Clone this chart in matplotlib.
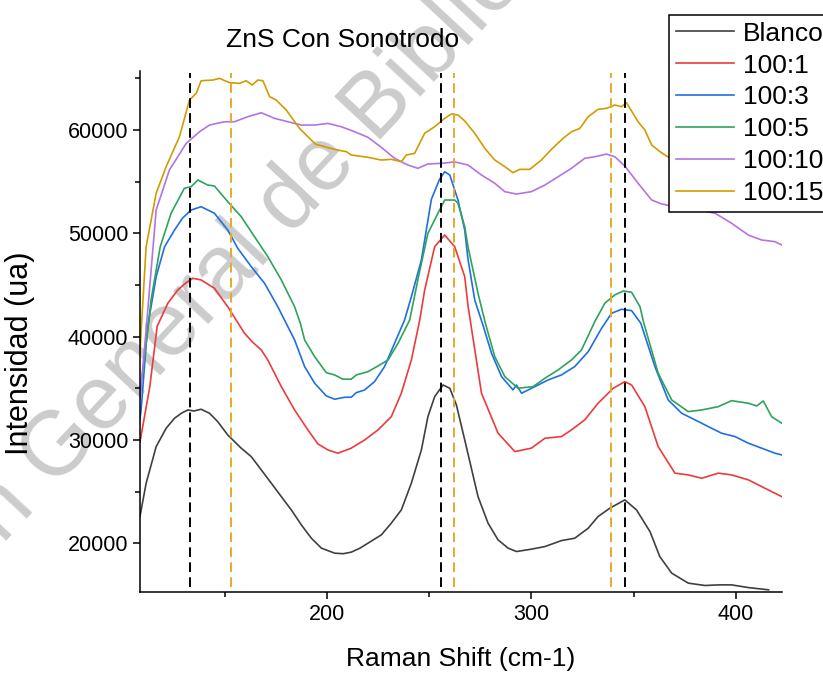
import matplotlib
matplotlib.use('Agg')
import matplotlib.pyplot as plt
from matplotlib.ticker import MultipleLocator

plt.rcParams['font.family'] = ['Liberation Sans', 'DejaVu Sans']

# Raman spectra (x in cm-1, y in ua)
blanco_x = [108.6, 111.6, 116.5, 121.4, 125.5, 129.0, 132.0, 135.0, 138.5, 142.6, 146.6, 151.5,
            158.1, 163.0, 167.9, 172.8, 177.7, 182.6, 187.5, 192.4, 197.3, 203.8, 208.0, 211.9,
            216.0, 220.1, 226.6, 231.5, 236.4, 241.3, 246.2, 249.4, 252.7, 256.8, 260.1, 263.3,
            267.4, 273.9, 278.8, 283.7, 288.6, 292.7, 300.0, 306.6, 314.7, 321.2, 327.8, 332.6,
            338.4, 345.7, 351.4, 358.0, 362.8, 368.6, 376.7, 384.9, 391.4, 397.9, 406.1, 416.0]
blanco_y = [22600, 25800, 29350, 31130, 32100, 32600, 32900, 32800, 32970, 32580, 31770, 30480,
            29200, 28380, 27100, 25810, 24510, 23220, 21770, 20480, 19520, 19030, 18980, 19130,
            19500, 20000, 20800, 21940, 23220, 25810, 29030, 32250, 34190, 35320, 35000, 33400,
            30000, 24510, 21940, 20320, 19520, 19190, 19420, 19670, 20250, 20480, 21450, 22580,
            23390, 24190, 23220, 21120, 18700, 17100, 16130, 15900, 15960, 15960, 15700, 15480]

r1_x = [108.6, 113.4, 117.0, 122.2, 127.1, 131.0, 134.4, 138.5, 145.0, 151.5, 155.0, 159.7,
        163.5, 167.9, 171.1, 177.7, 184.2, 190.7, 195.6, 200.5, 205.4, 211.9, 218.5, 225.0,
        231.5, 236.4, 241.3, 245.4, 247.8, 252.7, 257.6, 262.5, 267.4, 269.0, 275.6, 283.7,
        291.9, 300.0, 306.6, 314.7, 319.6, 326.1, 332.6, 340.0, 345.7, 349.0, 355.5, 362.0,
        370.2, 376.7, 383.3, 391.4, 397.9, 406.1, 412.6, 422.4]
r1_y = [29800, 35160, 41000, 43230, 44520, 45200, 45650, 45490, 44680, 42900, 41800, 40330,
        39500, 38710, 37740, 35160, 32900, 30970, 29610, 29030, 28710, 29200, 30000, 30970,
        32250, 34520, 37740, 41600, 44500, 48710, 49840, 48710, 45810, 43000, 34520, 30650,
        28870, 29200, 30160, 30320, 30970, 31940, 33550, 35000, 35640, 35320, 33220, 29350,
        26780, 26610, 26290, 26780, 26610, 26130, 25480, 24510]

r3_x = [108.6, 109.2, 112.2, 116.5, 120.6, 125.5, 129.5, 133.6, 138.5, 145.0, 151.5, 156.4,
        163.0, 169.5, 176.0, 180.9, 184.2, 189.1, 194.0, 199.7, 203.8, 208.7, 211.9, 214.4,
        218.5, 223.3, 228.2, 233.1, 238.0, 241.5, 246.2, 251.1, 255.0, 257.6, 260.1, 264.1,
        267.4, 269.0, 272.3, 276.5, 280.5, 285.4, 291.0, 292.7, 295.2, 301.7, 308.2, 314.7,
        321.2, 327.8, 334.3, 339.2, 344.1, 349.0, 353.5, 360.4, 366.9, 373.5, 380.0, 386.5,
        393.0, 399.6, 406.1, 412.6, 419.1, 422.4]
r3_y = [32000, 33000, 40800, 45800, 48700, 50330, 51500, 52260, 52580, 51950, 50330, 48560,
        46780, 45170, 42900, 40970, 39680, 37100, 35490, 34260, 33940, 34130, 34130, 34580,
        34840, 35640, 37100, 39360, 41620, 44000, 47420, 53300, 55200, 55970, 55650, 53230,
        50330, 47500, 43550, 41000, 38390, 36130, 34840, 35320, 34520, 35160, 35810, 36290,
        37100, 38550, 40800, 42260, 42650, 42520, 41300, 37100, 33870, 32580, 31940, 31290,
        30650, 30320, 29680, 29200, 28710, 28550]

r5_x = [108.6, 112.5, 114.0, 118.5, 123.8, 130.3, 133.6, 136.9, 141.7, 145.0, 151.5, 158.1,
        164.6, 171.1, 177.7, 184.2, 187.0, 189.1, 194.0, 199.7, 203.8, 207.8, 211.9, 214.4,
        220.1, 225.0, 229.9, 234.8, 240.5, 245.0, 249.4, 254.3, 257.6, 262.5, 264.1, 267.4,
        269.0, 273.9, 277.5, 282.1, 287.0, 293.5, 300.8, 306.6, 313.1, 319.6, 324.5, 331.0,
        335.9, 340.8, 344.9, 349.0, 353.1, 355.0, 362.0, 368.6, 376.7, 383.3, 391.4, 397.9,
        406.1, 410.2, 413.4, 417.5, 422.4]
r5_y = [34500, 40700, 43550, 48710, 51950, 54370, 54520, 55170, 54680, 54590, 53070, 51620,
        49680, 47750, 45490, 42900, 41300, 39680, 38060, 36510, 36290, 35880, 35880, 36290,
        36610, 37160, 37740, 39360, 41620, 46000, 50000, 51950, 53230, 53230, 52910, 50650,
        48710, 44200, 41300, 38060, 36130, 35000, 35160, 35970, 36780, 37740, 38710, 41450,
        43230, 44040, 44420, 44300, 42900, 41300, 36460, 33870, 32740, 32900, 33220, 33800,
        33550, 33290, 33770, 32250, 31620]

r10_x = [108.6, 111.6, 116.5, 123.0, 131.2, 137.7, 142.6, 149.9, 154.8, 161.3, 167.9, 174.4,
         180.9, 187.5, 194.0, 200.5, 207.0, 213.6, 220.1, 226.6, 233.1, 239.6, 244.5, 249.4,
         256.0, 262.5, 269.0, 275.6, 282.1, 287.0, 292.7, 300.0, 306.6, 313.1, 319.6, 326.1,
         331.0, 336.7, 340.8, 345.7, 352.2, 358.8, 363.7, 372.0, 381.0, 389.8, 397.9, 406.1,
         412.6, 419.1, 422.4]
r10_y = [34000, 40650, 52260, 56140, 58720, 59840, 60490, 60810, 60810, 61300, 61680, 61140,
         60810, 60490, 60490, 60650, 60330, 59840, 59300, 58330, 57270, 56620, 56300, 56720,
         56780, 56920, 56620, 55650, 54850, 54040, 53810, 54040, 54680, 55490, 56300, 57270,
         57420, 57680, 57420, 56520, 54850, 53230, 52850, 52500, 52300, 51950, 50980, 49840,
         49360, 49200, 48880]

r15_x = [108.6, 109.2, 111.6, 116.5, 121.4, 127.9, 132.8, 136.1, 138.5, 144.2, 147.5, 152.4,
         157.3, 160.5, 163.5, 166.2, 168.7, 172.0, 175.2, 180.1, 186.6, 194.4, 203.4, 209.5,
         211.9, 220.1, 226.6, 231.5, 236.4, 238.9, 242.9, 247.8, 252.7, 257.6, 260.9, 264.1,
         267.4, 272.3, 277.2, 282.1, 287.0, 291.0, 294.3, 299.2, 304.9, 309.8, 315.5, 319.6,
         323.7, 327.8, 332.6, 336.8, 340.8, 344.1, 346.5, 352.2, 355.5, 358.8, 362.9, 367.0,
         375.0, 385.0, 395.0, 405.0, 415.0, 422.4]
r15_y = [38500, 40650, 48710, 53880, 56460, 59360, 62910, 63560, 64780, 64850, 65010, 64590,
         64530, 64780, 64370, 64850, 64780, 63240, 62910, 61950, 60170, 58640, 58150, 57910,
         57590, 57370, 57100, 57170, 56940, 57590, 57750, 59690, 60330, 61140, 61560, 61460,
         60890, 59690, 58240, 57100, 56460, 55880, 56200, 56200, 57100, 58140, 59200, 59840,
         60170, 61300, 62010, 62110, 62430, 62270, 62650, 60810, 60010, 58560, 57910, 57370,
         56500, 55800, 55200, 54600, 54000, 53600]

labels = ['Blanco', '100:1', '100:3', '100:5', '100:10', '100:15']
colors = ['#404040', '#eb3b3b', '#1f6fe0', '#2ea35c', '#b274e3', '#d19c00']
series = [(blanco_x, blanco_y), (r1_x, r1_y), (r3_x, r3_y),
          (r5_x, r5_y), (r10_x, r10_y), (r15_x, r15_y)]

# reference peak positions
black_peaks = [133, 256, 346]
orange_peaks = [153, 262, 339]

fig = plt.figure(figsize=(8.23, 6.73), dpi=100)
ax = fig.add_axes([0.1701, 0.1208, 0.7797, 0.7741])
ax.patch.set_alpha(0)

for (xs, ys), lab, col in zip(series, labels, colors):
    ax.plot(xs, ys, color=col, lw=1.2, label=lab)

for xp in black_peaks:
    ax.vlines(xp, 15750, 65500, colors='black', lw=1.4, linestyles=(0, (5, 2.7)))
for xp in orange_peaks:
    ax.vlines(xp, 15750, 65500, colors='#e8a92a', lw=1.4, linestyles=(0, (5, 2.7)))

ax.set_xlim(108.6, 422.4)
ax.set_ylim(15300, 65750)
ax.xaxis.set_major_locator(MultipleLocator(100))
ax.xaxis.set_minor_locator(MultipleLocator(50))
ax.yaxis.set_major_locator(MultipleLocator(10000))
ax.yaxis.set_minor_locator(MultipleLocator(5000))
ax.tick_params(which='major', direction='out', length=5, width=1.1, labelsize=15.5)
ax.tick_params(which='minor', direction='out', length=3.5, width=1.1)
for side in ['top', 'right']:
    ax.spines[side].set_visible(False)
for side in ['left', 'bottom']:
    ax.spines[side].set_linewidth(1.1)

ax.set_xlabel('Raman Shift (cm-1)', fontsize=19)
ax.set_ylabel('Intensidad (ua)', fontsize=22)
ax.xaxis.set_label_coords(0.5, -0.106)
ax.yaxis.set_label_coords(-0.164, 0.458)
fig.text(0.4168, 0.9406, 'ZnS Con Sonotrodo', fontsize=19, ha='center', va='center')

leg = ax.legend(loc='upper left', bbox_to_anchor=(669 / 823, 1 - 15 / 673),
                bbox_transform=fig.transFigure, fontsize=19, frameon=True,
                fancybox=False, framealpha=1, edgecolor='black', borderaxespad=0,
                borderpad=0.25, handlelength=2.2, handletextpad=0.35, labelspacing=0.3)
leg.get_frame().set_linewidth(1.1)

# watermark
fig.text(0.255, 0.572, 'Dirección General de Bibliotecas', fontsize=65, color='#cccccc',
         rotation=47, ha='center', va='center', rotation_mode='anchor', zorder=-1)

fig.savefig('out.png', dpi=100)
